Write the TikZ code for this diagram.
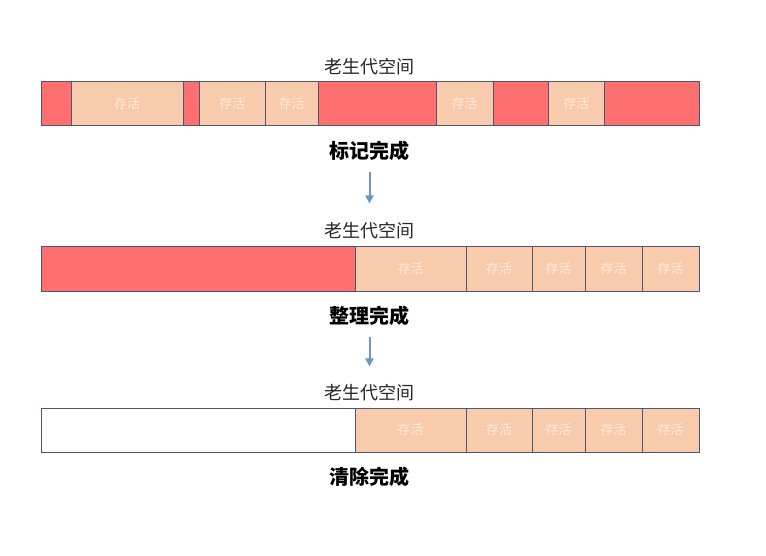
\documentclass[tikz,border=0pt]{standalone}
\usepackage{fontspec}
\setmainfont{Noto Sans CJK SC}
\usetikzlibrary{arrows.meta, positioning}
\definecolor{deadred}{HTML}{FF6F6F}
\definecolor{livepeach}{HTML}{F8CBAD}
\definecolor{livetext}{HTML}{FDEADC}
\definecolor{cellline}{HTML}{4D5672}
\definecolor{flowblue}{HTML}{6A96C0}
\tikzset{
  cell/.style={draw=cellline, line width=0.8pt, inner sep=0pt, outer sep=0pt, anchor=north west,
    font=\fontsize{13}{13}\selectfont, text=livetext},
  dead/.style={fill=deadred},
  live/.style={fill=livepeach},
  free/.style={fill=white},
  spacelabel/.style={inner sep=0pt, font=\fontsize{18}{18}\selectfont, text=black!85},
  donelabel/.style={inner sep=0pt, font=\fontsize{20}{20}\selectfont\bfseries},
  flow/.style={draw=flowblue, line width=2pt, -{Triangle[length=8pt,width=8pt]}}
}

\begin{document}
\begin{tikzpicture}[x=1pt, y=-1pt]
		\useasboundingbox (0,0) rectangle (766,555);
		% first row: marking
		\foreach \a/\b/\k/\t [count=\i] in {41/71/dead/{}, 71/183/live/存活, 183/199/dead/{},
			199/265/live/存活, 265/318/live/存活, 318/436/dead/{}, 436/493/live/存活,
			493/548/dead/{}, 548/604/live/存活, 604/699/dead/{}}{
			\node [cell, \k, minimum width={\b pt-\a pt}, minimum height=43.5pt] (ra\i) at (\a,81.5) {\t};
		}
		% second row: compacting
		\foreach \a/\b/\k/\t [count=\i] in {41/355/dead/{}, 355/466/live/存活, 466/532/live/存活,
			532/585/live/存活, 585/642/live/存活, 642/699/live/存活}{
			\node [cell, \k, minimum width={\b pt-\a pt}, minimum height=45pt] (rb\i) at (\a,246) {\t};
		}
		% third row: sweeping
		\foreach \a/\b/\k/\t [count=\i] in {41/355/free/{}, 355/466/live/存活, 466/532/live/存活,
			532/585/live/存活, 585/642/live/存活, 642/699/live/存活}{
			\node [cell, \k, minimum width={\b pt-\a pt}, minimum height=44pt] (rc\i) at (\a,408) {\t};
		}
		% labels:
		\node [spacelabel] (spacea) at (369.5,67) {老生代空间};
		\node [donelabel] (donea) at (369.5,151) {标记完成};
		\node [spacelabel] (spaceb) at (369.5,231) {老生代空间};
		\node [donelabel] (doneb) at (369.5,315.5) {整理完成};
		\node [spacelabel] (spacec) at (369.5,393) {老生代空间};
		\node [donelabel] (donec) at (369.5,477) {清除完成};
		% step arrows
		\draw [flow] ([yshift=-11pt]donea.south) -- ([yshift=19pt]spaceb.north);
		\draw [flow] ([yshift=-11pt]doneb.south) -- ([yshift=18pt]spacec.north);
	\end{tikzpicture}
\end{document}
